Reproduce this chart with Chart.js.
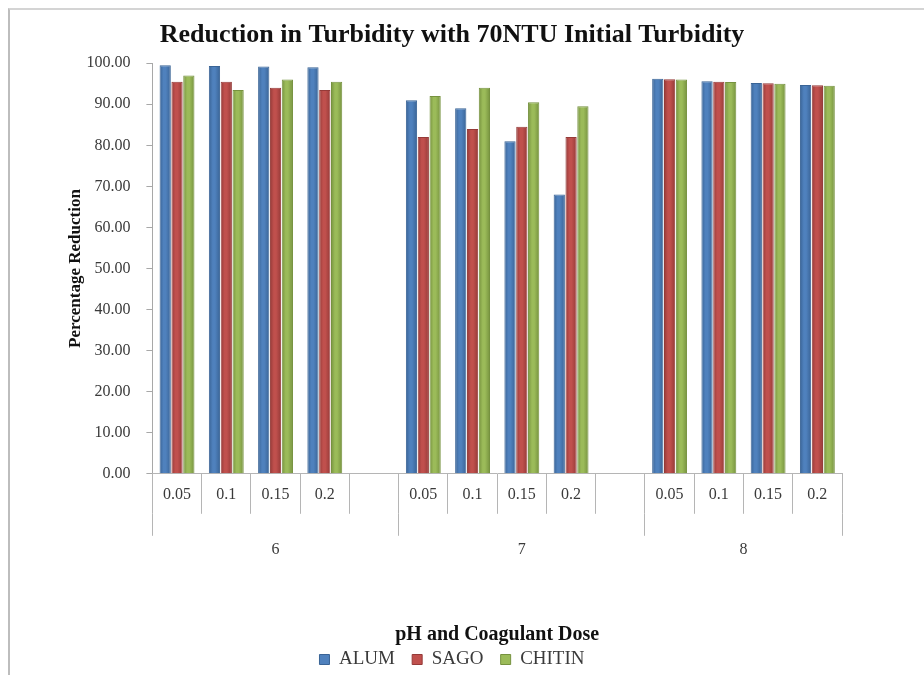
<!DOCTYPE html>
<html>
<head>
<meta charset="utf-8">
<script src="https://cdn.jsdelivr.net/npm/chart.js@4"></script>
<style>
  body { margin: 0; background: #fff; }
  #wrap { position: relative; width: 924px; height: 675px; }
  #frame { position: absolute; left: 8px; top: 8px; right: 0; bottom: 0;
           border-left: 2px solid #bdbdbd; border-top: 2px solid #d4d4d4; pointer-events: none; }
</style>
</head>
<body>
<div id="wrap">
  <canvas id="chart" width="924" height="675"></canvas>
  <div id="frame"></div>
</div>
<script>
'use strict'

// pH groups and coagulant doses
const phLevels = ['6', '7', '8']
const doses = ['0.05', '0.1', '0.15', '0.2']

// percentage reduction, in order pH6 (4 doses), pH7, pH8
const alum   = [99.5, 99.3, 99.2, 99.0,  91.0, 89.0, 81.0, 68.0,  96.2, 95.6, 95.2, 94.7]
const sago   = [95.5, 95.5, 94.0, 93.5,  82.0, 84.0, 84.5, 82.0,  96.1, 95.5, 95.1, 94.6]
const chitin = [97.0, 93.5, 96.0, 95.5,  92.0, 94.0, 90.5, 89.5,  96.0, 95.4, 95.0, 94.5]

const yTicks = [0, 10, 20, 30, 40, 50, 60, 70, 80, 90, 100]

const FONT = "'Liberation Serif', 'DejaVu Serif', serif"
const TEXT = '#3a3a3a'

// an empty slot follows the first two pH groups, like the original axis
function withGaps(values) {
  let out = []
  phLevels.forEach((ph, g) => {
    for (let i = 0; i < doses.length; i++) {
      out.push(values[g * doses.length + i])
    }
    if (g < phLevels.length - 1) out.push(null)
  })
  return out
}

// the extra blank lines give the dose axis enough height to keep its
// labels inside the separator cells (negative padding pulls them up)
let labels = []
phLevels.forEach((ph, g) => {
  doses.forEach(d => labels.push([d, '', '']))
  if (g < phLevels.length - 1) labels.push(['', '', ''])
})

// group boundaries and centres for the pH row, in category units
let groupEdges = [0]
let groupCentres = {}
phLevels.forEach((ph, g) => {
  let start = groupEdges[groupEdges.length - 1]
  let size = doses.length + (g < phLevels.length - 1 ? 1 : 0)
  groupCentres[start + size / 2] = ph
  groupEdges.push(start + size)
})

function series(label, data, color, edge) {
  return {
    label: label,
    data: withGaps(data),
    backgroundColor: color,
    borderColor: edge,
    borderWidth: 1,
    shade: [edge, color],
    categoryPercentage: 0.72,
    barPercentage: 0.95
  }
}

// rounded look for the bars: horizontal gradient per bar
const cylinder = {
  id: 'cylinder',
  beforeDatasetsDraw(chart) {
    const ctx = chart.ctx
    chart.data.datasets.forEach((ds, i) => {
      chart.getDatasetMeta(i).data.forEach(bar => {
        if (!bar || isNaN(bar.x) || !bar.width) return
        const x0 = bar.x - bar.width / 2
        const g = ctx.createLinearGradient(x0, 0, x0 + bar.width, 0)
        g.addColorStop(0, ds.shade[0])
        g.addColorStop(0.35, ds.shade[1])
        g.addColorStop(0.55, ds.shade[1])
        g.addColorStop(1, ds.shade[0])
        bar.options = Object.assign({}, bar.options, { backgroundColor: g })
      })
    })
  }
}

const CHART = document.querySelector('#chart').getContext('2d')

new Chart(CHART, {
  type: 'bar',
  data: {
    labels: labels,
    datasets: [
      series('ALUM', alum, '#4f81bd', '#3a6496'),
      series('SAGO', sago, '#c0504d', '#953a38'),
      series('CHITIN', chitin, '#9bbb59', '#76923f')
    ]
  },
  plugins: [cylinder],
  options: {
    responsive: false,
    animation: false,
    layout: { padding: { left: 62, right: 82, top: 8, bottom: -4 } },
    plugins: {
      title: {
        display: true,
        text: 'Reduction in Turbidity with 70NTU Initial Turbidity',
        color: '#111',
        font: { family: FONT, size: 26, weight: 'bold' },
        padding: { top: 12, bottom: 12 }
      },
      legend: {
        position: 'bottom',
        labels: {
          color: TEXT,
          font: { family: FONT, size: 19 },
          boxWidth: 10,
          boxHeight: 10,
          padding: 3,
          // keep the legend rows tight; spacing between items comes from the text
          generateLabels: chart => {
            let items = Chart.defaults.plugins.legend.labels.generateLabels(chart)
            items.forEach((it, i) => { if (i < items.length - 1) it.text += '   ' })
            return items
          }
        }
      },
      tooltip: { enabled: false }
    },
    scales: {
      y: {
        min: 0,
        max: 100,
        afterBuildTicks: axis => { axis.ticks = yTicks.map(v => ({ value: v })) },
        ticks: {
          color: TEXT,
          font: { family: FONT, size: 16 },
          padding: 16,
          callback: v => Number(v).toFixed(2)
        },
        grid: { drawOnChartArea: false, tickLength: 6, color: '#a8a8a8' },
        border: { color: '#a8a8a8' },
        title: {
          display: true,
          text: 'Percentage Reduction',
          color: '#111',
          font: { family: FONT, size: 17, weight: 'bold' },
          padding: { top: 3, bottom: -15 }
        }
      },
      x: {
        weight: 0,
        ticks: {
          color: TEXT,
          font: { family: FONT, size: 16 },
          padding: -28.8,
          maxRotation: 0,
          autoSkip: false
        },
        grid: { drawOnChartArea: false, offset: true, tickLength: 40, color: '#b5b5b5' },
        border: { color: '#b5b5b5' }
      },
      x2: {
        type: 'linear',
        position: 'bottom',
        weight: 1,
        min: 0,
        max: labels.length,
        offset: false,
        afterBuildTicks: axis => {
          let vals = groupEdges.concat(Object.keys(groupCentres).map(Number))
          axis.ticks = vals.sort((a, b) => a - b).map(v => ({ value: v }))
        },
        ticks: {
          color: TEXT,
          font: { family: FONT, size: 16 },
          padding: 4,
          maxRotation: 0,
          autoSkip: false,
          callback: v => groupCentres[v] || ''
        },
        grid: {
          drawOnChartArea: false,
          offset: false,
          tickLength: 22,
          color: c => groupEdges.includes(c.tick && c.tick.value) ? '#b5b5b5' : 'rgba(0,0,0,0)'
        },
        border: { display: false },
        title: {
          display: true,
          text: 'pH and Coagulant Dose',
          color: '#111',
          font: { family: FONT, size: 20, weight: 'bold' },
          padding: { top: 60, bottom: 0 }
        }
      }
    }
  }
})
</script>
</body>
</html>
